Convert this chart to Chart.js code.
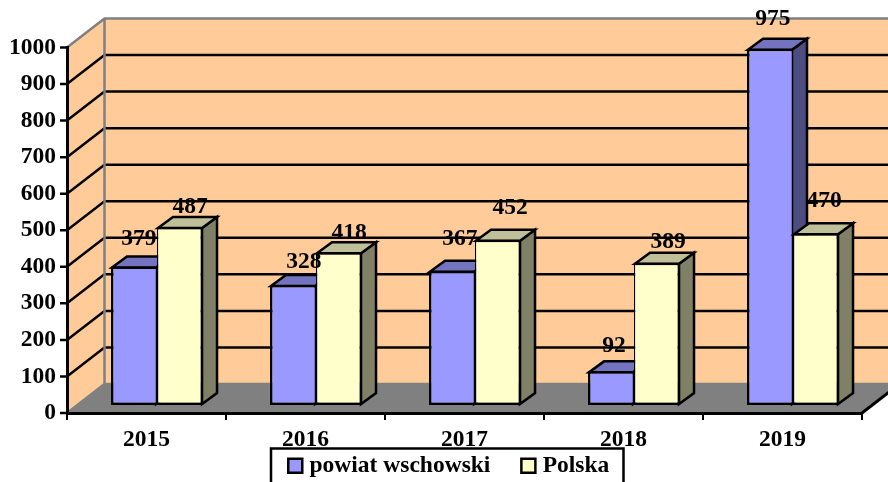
<!DOCTYPE html>
<html>
<head>
<meta charset="utf-8">
<style>
html, body { margin: 0; padding: 0; background: #fff; }
#wrap { width: 888px; height: 482px; position: relative; overflow: hidden; }
</style>
<script src="https://cdn.jsdelivr.net/npm/chart.js@4/dist/chart.umd.min.js"></script>
</head>
<body>
<div id="wrap"><canvas id="chart"></canvas></div>
<script>
const years = ['2015', '2016', '2017', '2018', '2019'];
const powiat = [379, 328, 367, 92, 975];
const polska = [487, 418, 452, 389, 470];
// hand placed labels in the original, offset from the bar's top centre
const powiatLabelShift = [[5, -28], [11, -23], [8, -32], [3, -25], [3, -30]];
const polskaLabelShift = [[10, -20], [10, -19], [12, -32], [11, -21], [8, -32]];

const FONT_SIZE = 23.5;
const FONT = { family: 'Liberation Serif', weight: 'bold', size: FONT_SIZE };
const WALL_DX = 37.5, WALL_DY = 29;   // depth of the whole plot box
const BAR_SHIFT_X = 10.5, BAR_SHIFT_Y = -8;  // bars stand part way into the box
const BAR_DX = 15, BAR_DY = 11;       // depth of a bar
const STROKE = 2.5;

function poly(ctx, pts, fill, stroke, width) {
    ctx.beginPath();
    pts.forEach((p, i) => i ? ctx.lineTo(p[0], p[1]) : ctx.moveTo(p[0], p[1]));
    ctx.closePath();
    if (fill) { ctx.fillStyle = fill; ctx.fill(); }
    if (stroke) { ctx.strokeStyle = stroke; ctx.lineWidth = width; ctx.lineJoin = 'miter'; ctx.stroke(); }
}

const box3d = {
    id: 'box3d',
    afterLayout(chart) {
        // legend keeps wide gaps between items, so it needs a big padding but a short box
        const legend = chart.legend, padding = legend.options.labels.padding;
        legend.top = 454 - padding;
        legend.left += 20;
        legend.right += 20;
    },
    beforeDraw(chart) {
        const ctx = chart.ctx, a = chart.chartArea, y = chart.scales.y;
        const bx = a.left + WALL_DX, ty = a.top - WALL_DY, by = a.bottom - WALL_DY;
        ctx.save();
        // back wall, side wall, floor
        poly(ctx, [[bx, ty], [a.right + WALL_DX, ty], [a.right + WALL_DX, by], [bx, by]], '#ffcc99');
        poly(ctx, [[a.left, a.top], [bx, ty], [bx, by], [a.left, a.bottom]], '#ffcc99');
        poly(ctx, [[a.left, a.bottom], [bx, by], [a.right + WALL_DX, by], [a.right, a.bottom]], '#808080');
        // grid lines run up the side wall and along the back
        y.ticks.forEach(t => {
            const py = y.getPixelForValue(t.value);
            ctx.strokeStyle = '#000';
            ctx.lineWidth = STROKE;
            ctx.beginPath();
            ctx.moveTo(a.left - 7, py);
            ctx.lineTo(a.left, py);
            if (t.value !== 0 && t.value !== 1000) {
                ctx.lineTo(bx, py - WALL_DY);
                ctx.lineTo(a.right + WALL_DX, py - WALL_DY);
            }
            ctx.stroke();
        });
        // grey edges of the box
        ctx.strokeStyle = '#808080';
        ctx.lineWidth = STROKE;
        ctx.beginPath();
        ctx.moveTo(a.left, a.top);
        ctx.lineTo(bx, ty);
        ctx.lineTo(a.right + WALL_DX, ty);
        ctx.moveTo(bx, ty);
        ctx.lineTo(bx, by);
        ctx.lineTo(a.right + WALL_DX, by);
        ctx.moveTo(bx, by);
        ctx.lineTo(a.left, a.bottom);
        ctx.stroke();
        // floor edge on the right
        ctx.strokeStyle = '#000';
        ctx.lineWidth = 3;
        ctx.beginPath();
        ctx.moveTo(a.right, a.bottom);
        ctx.lineTo(a.right + WALL_DX, by);
        ctx.stroke();
        ctx.restore();
    },
    beforeDatasetsDraw(chart) {
        const ctx = chart.ctx;
        // blue first so the yellow bar sits in front of it; the default order is the reverse
        chart.data.datasets.forEach((ds, i) => {
            const meta = chart.getDatasetMeta(i);
            ctx.save();
            ctx.translate(BAR_SHIFT_X, BAR_SHIFT_Y);
            meta.data.forEach(bar => {
                const l = bar.x - bar.width / 2, r = bar.x + bar.width / 2;
                const t = bar.y + 1, b = bar.base - 1;
                // side then top, the front comes from the library
                poly(ctx, [[r - 1, t], [r - 1 + BAR_DX, t - BAR_DY], [r - 1 + BAR_DX, b - BAR_DY], [r - 1, b]], ds.sideColor, '#000', STROKE);
                poly(ctx, [[l + 1, t], [l + 1 + BAR_DX, t - BAR_DY], [r - 1 + BAR_DX, t - BAR_DY], [r - 1, t]], ds.topColor, '#000', STROKE);
            });
            meta.controller.draw();
            ctx.restore();
        });
        // value labels
        ctx.save();
        ctx.font = 'bold ' + FONT_SIZE + 'px "Liberation Serif"';
        ctx.fillStyle = '#000';
        ctx.textAlign = 'center';
        ctx.textBaseline = 'middle';
        chart.data.datasets.forEach((ds, i) => {
            chart.getDatasetMeta(i).data.forEach((bar, j) => {
                const s = ds.labelShift[j];
                ctx.fillText(ds.data[j], bar.x + BAR_SHIFT_X + s[0], bar.y + BAR_SHIFT_Y + s[1]);
            });
        });
        ctx.restore();
        return false;
    },
    afterDraw(chart) {
        // framed legend sits on top of the year labels
        const ctx = chart.ctx;
        ctx.save();
        ctx.fillStyle = '#fff';
        ctx.strokeStyle = '#000';
        ctx.lineWidth = 2.5;
        ctx.fillRect(271, 448.5, 352.5, 40);
        ctx.strokeRect(271, 448.5, 352.5, 40);
        ctx.restore();
        chart.legend.draw();
    }
};

new Chart(document.getElementById('chart'), {
    type: 'bar',
    plugins: [box3d],
    data: {
        labels: years,
        datasets: [
            {
                label: 'powiat wschowski',
                data: powiat,
                labelShift: powiatLabelShift,
                backgroundColor: '#9999ff',
                topColor: '#7373bf',
                sideColor: '#4d4d80',
                borderColor: '#000',
                borderWidth: { top: STROKE, right: STROKE / 2, bottom: STROKE, left: STROKE },
                borderSkipped: false
            },
            {
                label: 'Polska',
                data: polska,
                labelShift: polskaLabelShift,
                backgroundColor: '#ffffcc',
                topColor: '#bfbf99',
                sideColor: '#808066',
                borderColor: '#000',
                borderWidth: { top: STROKE, right: STROKE, bottom: STROKE, left: STROKE / 2 },
                borderSkipped: false
            }
        ]
    },
    options: {
        responsive: true,
        maintainAspectRatio: false,
        animation: false,
        layout: { padding: { top: 47.5, left: 0, right: 26, bottom: 0 } },
        categoryPercentage: 0.579,
        barPercentage: 1,
        plugins: {
            tooltip: { enabled: false },
            legend: {
                position: 'bottom',
                maxHeight: 34,
                labels: {
                    color: '#000',
                    font: FONT,
                    usePointStyle: true,
                    boxWidth: 5,
                    boxHeight: 14,
                    padding: 35.5,
                    generateLabels(chart) {
                        return chart.data.datasets.map((ds, i) => ({
                            text: ds.label,
                            fillStyle: ds.backgroundColor,
                            strokeStyle: '#000',
                            lineWidth: 2.5,
                            pointStyle: 'rect',
                            fontColor: '#000',
                            datasetIndex: i
                        }));
                    }
                }
            }
        },
        scales: {
            x: {
                afterFit(scale) { scale.height = 35; },
                grid: { drawOnChartArea: false, color: '#000', lineWidth: 2, tickLength: 7, offset: true },
                border: { color: '#000', width: 3 },
                ticks: { color: '#000', font: FONT, padding: 6, maxRotation: 0 }
            },
            y: {
                min: 0,
                max: 1000,
                afterFit(scale) { scale.width = 67; },
                grid: { display: false, tickLength: 7 },
                border: { color: '#000', width: 3 },
                ticks: { color: '#000', stepSize: 100, font: FONT, padding: 4, callback: v => String(v) }
            }
        }
    }
});
</script>
</body>
</html>
